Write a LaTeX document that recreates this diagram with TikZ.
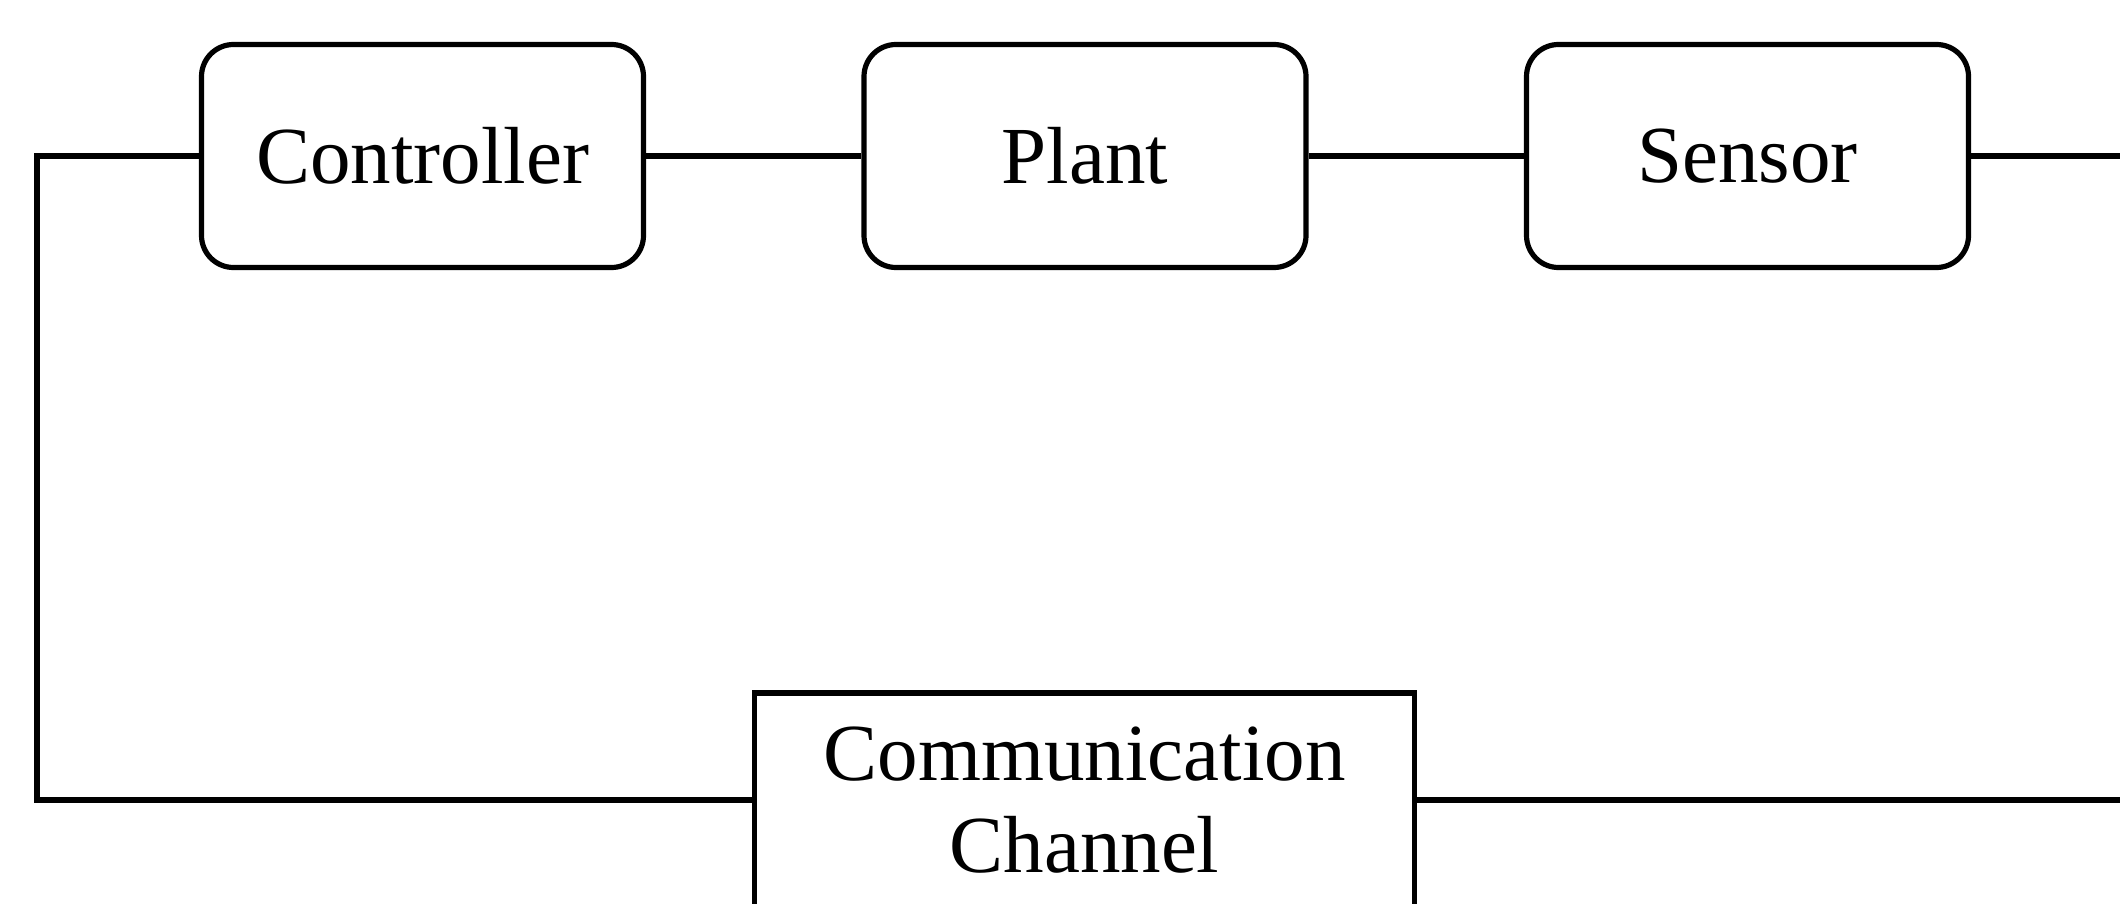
\documentclass[tikz,border=0pt]{standalone}
\usepackage{fontspec}
\setmainfont{Liberation Serif}
\begin{document}
\begin{tikzpicture}[x=0.5pt,y=-0.5pt,
  every node/.style={font=\fontsize{40.5}{46}\selectfont},
  block/.style={draw,line width=2.6pt,rounded corners=16pt,minimum width=221pt,minimum height=111.5pt,inner sep=0pt},
  chan/.style={draw,line width=2.6pt,minimum width=330pt,minimum height=107pt,align=center,inner sep=0pt},
  wire/.style={line width=2.6pt,line join=miter}]
\useasboundingbox (0,0) rectangle (2120,904);
\clip (0,0) rectangle (2120,904);
\node[block] (ctrl) at (422.5,156) {Controller};
\node[block] (plant) at (1085,156) {Plant};
\node[block] (sens) at (1747.5,156) {Sensor};
\node[chan] (comm) at (1084.5,800) {Communication\\Channel};
\coordinate (tl) at (37,156);
\coordinate (bl) at (37,800);
\coordinate (tr) at (2125,156);
\coordinate (br) at (2125,800);
\draw[wire] (ctrl) -- (plant);
\draw[wire] (plant) -- (sens);
\draw[wire] (sens.east) -- (tr);
\draw[wire] (comm.east) -- (br);
\draw[wire] (ctrl.west) -- (tl) -- (bl) -- (comm.west);
\end{tikzpicture}
\end{document}
